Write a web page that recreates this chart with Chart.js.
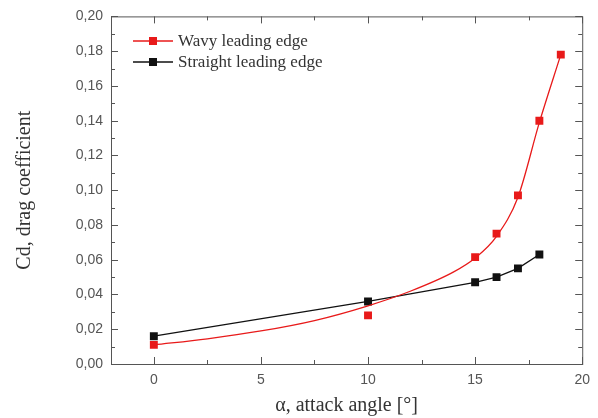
<!DOCTYPE html>
<html>
<head>
<meta charset="utf-8">
<script src="https://cdn.jsdelivr.net/npm/chart.js@4.4.0/dist/chart.umd.min.js"></script>
<style>
  html, body { margin: 0; padding: 0; background: #fff; }
  #box { width: 598px; height: 418px; }
</style>
</head>
<body>
<div id="box"><canvas id="grafico"></canvas></div>
<script>
// attack angles (degrees)
const angulos = [0, 10, 15, 16, 17, 18, 19];
const anguloStraight = [0, 10, 15, 16, 17, 18];
// measured drag coefficients
const cdWavy = [0.011, 0.028, 0.0615, 0.075, 0.097, 0.140, 0.178];
const cdStraight = [0.016, 0.036, 0.047, 0.050, 0.055, 0.063];
// fitted red curve
const fitAngulos = [0, 2.5, 5, 7.5, 10, 12, 14, 15, 16, 17, 18, 19];
const fitWavy = [0.011, 0.0145, 0.019, 0.025, 0.0335, 0.042, 0.053, 0.061, 0.0735, 0.096, 0.139, 0.178];
// ticks
const xMajor = [0, 5, 10, 15, 20];
const xMinor = [2.5, 7.5, 12.5, 17.5];
const yMajor = [0, 0.02, 0.04, 0.06, 0.08, 0.10, 0.12, 0.14, 0.16, 0.18, 0.20];
const yMinor = [0.01, 0.03, 0.05, 0.07, 0.09, 0.11, 0.13, 0.15, 0.17, 0.19];
const legendas = ['Wavy leading edge', 'Straight leading edge'];

const VERMELHO = '#e81a1a';
const PRETO = '#111111';
const EIXO = '#555555';

const toXY = (xs, ys) => xs.map((x, i) => ({ x: x, y: ys[i] }));

// desenha caixa, ticks para dentro e legenda
const eixosPlugin = {
    id: 'eixos',
    afterDraw(chart) {
        const ctx = chart.ctx;
        const a = chart.chartArea;
        const sx = chart.scales.x, sy = chart.scales.y;
        ctx.save();
        ctx.strokeStyle = EIXO;
        ctx.lineWidth = 1;
        ctx.strokeRect(a.left + 0.5, a.top + 0.5, a.right - a.left, a.bottom - a.top);
        ctx.beginPath();
        const tickX = (v, len) => {
            const px = Math.round(sx.getPixelForValue(v)) + 0.5;
            ctx.moveTo(px, a.bottom); ctx.lineTo(px, a.bottom - len);
            ctx.moveTo(px, a.top); ctx.lineTo(px, a.top + len);
        };
        const tickY = (v, len) => {
            const py = Math.round(sy.getPixelForValue(v)) + 0.5;
            ctx.moveTo(a.left, py); ctx.lineTo(a.left + len, py);
            ctx.moveTo(a.right, py); ctx.lineTo(a.right - len, py);
        };
        xMajor.forEach(v => tickX(v, 7));
        xMinor.forEach(v => tickX(v, 4));
        yMajor.forEach(v => tickY(v, 7));
        yMinor.forEach(v => tickY(v, 4));
        ctx.stroke();

        // legenda
        const cores = [VERMELHO, PRETO];
        ctx.font = '17px "Liberation Serif", serif';
        ctx.textBaseline = 'middle';
        legendas.forEach((txt, i) => {
            const y = 41 + i * 21;
            ctx.strokeStyle = cores[i];
            ctx.lineWidth = 1.3;
            ctx.beginPath();
            ctx.moveTo(133, y); ctx.lineTo(173, y);
            ctx.stroke();
            ctx.fillStyle = cores[i];
            ctx.fillRect(149, y - 4, 8, 8);
            ctx.fillStyle = '#333';
            ctx.fillText(txt, 178, y + 1);
        });
        ctx.restore();
    }
};

const ctx = document.getElementById('grafico').getContext('2d');
new Chart(ctx, {
    type: 'scatter',
    data: {
        datasets: [
            {
                label: 'fit',
                data: toXY(fitAngulos, fitWavy),
                showLine: true,
                borderColor: VERMELHO,
                borderWidth: 1.3,
                pointRadius: 0,
                cubicInterpolationMode: 'monotone'
            },
            {
                label: legendas[1],
                data: toXY(anguloStraight, cdStraight),
                showLine: true,
                borderColor: PRETO,
                backgroundColor: PRETO,
                borderWidth: 1.3,
                pointStyle: 'rect',
                pointRadius: 5.6,
                pointBorderWidth: 0,
                tension: 0
            },
            {
                label: legendas[0],
                data: toXY(angulos, cdWavy),
                showLine: false,
                backgroundColor: VERMELHO,
                borderColor: VERMELHO,
                pointStyle: 'rect',
                pointRadius: 5.6,
                pointBorderWidth: 0
            }
        ]
    },
    options: {
        responsive: true,
        maintainAspectRatio: false,
        animation: false,
        layout: { padding: { top: 13, right: 11, left: 0, bottom: 0 } },
        plugins: {
            legend: { display: false },
            tooltip: { enabled: false }
        },
        scales: {
            x: {
                type: 'linear',
                min: -2,
                max: 20,
                afterBuildTicks: s => { s.ticks = xMajor.map(v => ({ value: v })); },
                afterFit: s => { s.height = 54; },
                grid: { display: false, drawTicks: false },
                border: { display: false },
                ticks: {
                    color: EIXO,
                    padding: 8,
                    font: { family: '"Liberation Sans", Arial, sans-serif', size: 14 },
                    callback: v => String(v)
                },
                title: {
                    display: true,
                    text: 'α, attack angle [°]',
                    color: '#333',
                    font: { family: '"Liberation Serif", serif', size: 20 },
                    padding: { top: 2, bottom: 0 }
                }
            },
            y: {
                min: 0,
                max: 0.20,
                afterBuildTicks: s => { s.ticks = yMajor.map(v => ({ value: v })); },
                afterFit: s => { s.width = 111; },
                grid: { display: false, drawTicks: false },
                border: { display: false },
                ticks: {
                    color: EIXO,
                    padding: 8,
                    font: { family: '"Liberation Sans", Arial, sans-serif', size: 14 },
                    callback: v => v.toFixed(2).replace('.', ',')
                },
                title: {
                    display: true,
                    text: 'Cd, drag coefficient',
                    color: '#333',
                    font: { family: '"Liberation Serif", serif', size: 20 },
                    padding: { top: 13, bottom: 0 }
                }
            }
        }
    },
    plugins: [eixosPlugin]
});
</script>
</body>
</html>
